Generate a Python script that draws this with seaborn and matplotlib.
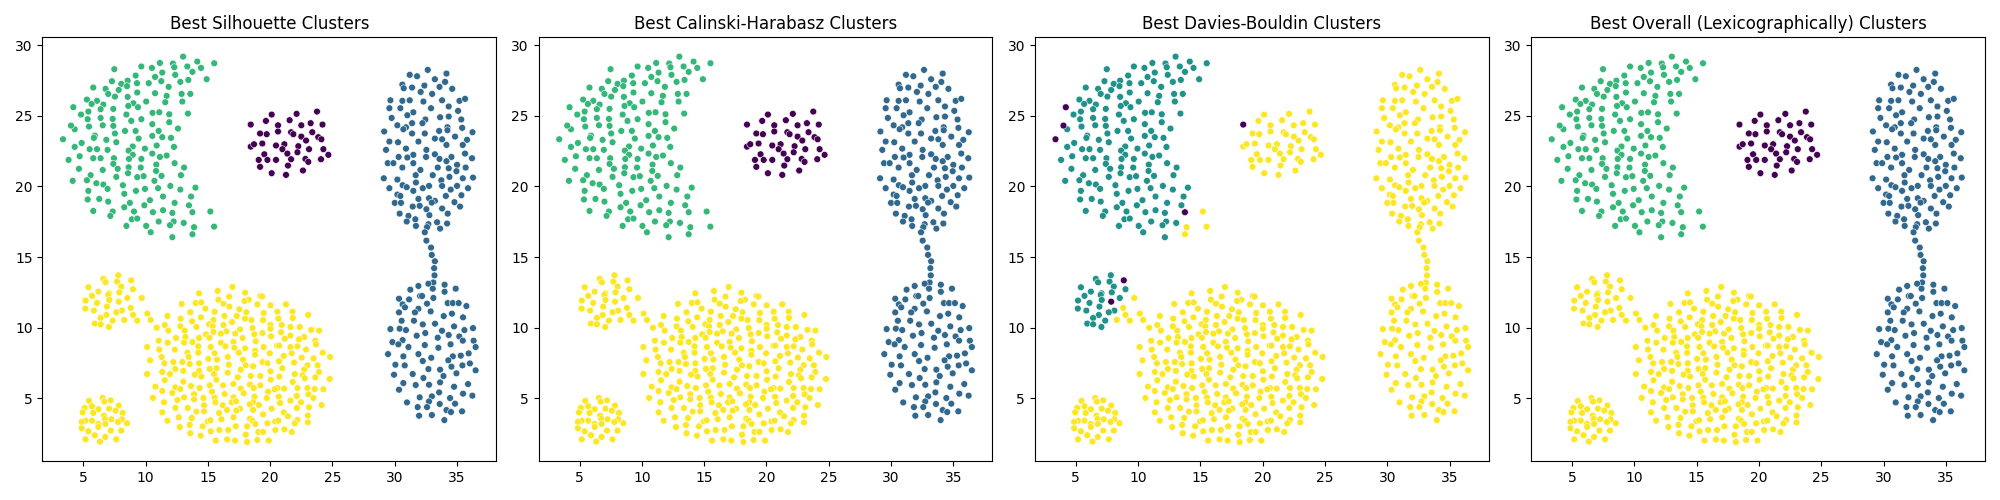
#!/usr/bin/env python3
"""Four cluster solutions on the same point set, side by side."""
import pandas as pd
import matplotlib
matplotlib.use('Agg')
import matplotlib.pyplot as plt
import seaborn as sns

# (x, y), one list per region
arc = [
    (13.01, 29.18), (14.15, 28.83), (15.51, 28.71), (12.2, 28.69), (12.3, 28.43), (11.15, 28.73),
    (9.66, 28.48), (10.51, 28.38), (13.35, 28.48), (14.45, 28.38), (13.76, 28.1), (7.49, 28.29),
    (11.34, 28.05), (12.38, 27.89), (9.2, 27.84), (10.76, 27.74), (14.9, 27.58), (13.43, 27.53),
    (12.79, 27.39), (11.26, 27.44), (10.25, 27.3), (9.31, 27.3), (8.56, 27.48), (7.3, 27.44),
    (8.05, 27.25), (8.51, 27.09), (11.85, 27.04), (5.80, 26.99), (6.79, 26.9), (7.84, 26.82),
    (9.33, 26.64), (10.76, 26.59), (12.89, 26.54), (13.59, 26.54), (7.0, 26.54), (11.69, 26.4),
    (7.54, 26.35), (8.56, 26.33), (5.29, 26.14), (6.10, 26.05), (5.67, 25.83), (6.61, 25.79),
    (10.05, 26.0), (11.58, 25.95), (12.95, 26.0), (9.02, 25.88), (8.61, 25.69), (9.39, 25.6),
    (6.39, 25.46), (7.41, 25.48), (5.41, 25.29), (10.56, 25.2), (11.10, 25.24), (11.90, 25.1),
    (13.40, 25.15), (4.82, 25.08), (8.46, 25.08), (6.39, 24.84), (5.35, 24.75), (7.36, 24.77),
    (9.66, 24.75), (8.85, 24.63), (11.90, 24.54), (10.54, 24.4), (6.56, 24.32), (7.41, 24.28),
    (5.46, 24.23), (4.31, 24.04), (12.60, 24.09), (8.35, 23.92), (9.20, 23.92), (11.05, 23.92),
    (7.54, 23.74), (10.54, 23.57), (5.92, 23.59), (5.85, 23.43), (11.34, 23.48), (12.04, 23.43),
    (9.44, 23.38), (6.85, 23.29), (7.65, 23.12), (4.87, 23.07), (10.89, 22.89), (4.31, 22.79),
    (8.97, 22.82), (12.28, 22.79), (5.51, 22.63), (6.10, 22.63), (6.95, 22.58), (9.95, 22.67),
    (8.64, 22.53), (10.54, 22.32), (8.97, 22.23), (4.71, 22.13), (11.15, 22.08), (11.69, 22.18),
    (5.80, 21.99), (6.39, 21.99), (7.46, 21.99), (8.67, 21.94), (9.66, 21.94), (3.82, 21.87),
    (7.41, 21.59), (12.33, 21.64), (10.86, 21.54), (7.76, 21.24), (8.64, 21.35), (9.61, 21.33),
    (13.09, 21.33), (6.56, 21.16), (4.65, 21.24), (10.84, 21.09), (8.59, 20.93), (5.59, 20.79),
    (7.65, 20.67), (9.33, 20.65), (9.84, 20.72), (11.28, 20.74), (12.84, 20.79), (5.29, 20.43),
    (4.15, 20.39), (10.71, 20.39), (6.05, 20.22), (6.61, 20.13), (8.18, 20.08), (11.99, 20.03),
    (14.0, 19.91), (6.95, 19.82), (9.95, 19.82), (11.0, 19.87), (12.79, 19.77), (5.41, 19.68),
    (9.23, 19.68), (8.29, 19.47), (11.40, 19.28), (13.65, 19.28), (5.35, 19.07), (6.28, 19.11),
    (7.0, 18.92), (10.35, 19.02), (8.74, 18.83), (12.33, 18.83), (9.90, 18.66), (13.48, 18.66),
    (8.29, 18.52), (5.80, 18.26), (7.36, 18.22), (9.07, 18.22), (10.59, 18.17), (11.40, 18.31),
    (12.15, 18.12), (7.17, 17.91), (8.90, 17.67), (9.33, 17.72), (11.05, 17.51), (12.25, 17.51),
    (11.96, 17.25), (13.06, 17.41), (8.46, 17.2), (10.05, 17.2), (10.41, 16.75), (12.15, 16.4),
]
arc_noise = [(3.37, 23.33), (4.01, 24.3), (4.2, 25.6), (13.76, 18.17)]
arc_tail = [(15.2, 18.22), (13.89, 17.11), (15.5, 17.15), (13.76, 16.61)]

blob = [
    (20.12, 25.08), (22.12, 25.13), (23.76, 25.29), (19.66, 24.63), (20.63, 24.32), (21.56, 24.68),
    (22.5, 24.32), (23.25, 24.47), (24.2, 24.37), (19.19, 23.74), (19.72, 23.69), (20.63, 23.88),
    (21.68, 23.83), (21.86, 23.69), (23.38, 23.83), (22.5, 23.52), (22.88, 23.24), (23.86, 23.48),
    (24.11, 23.33), (18.44, 22.81), (18.70, 22.98), (19.37, 23.03), (20.47, 22.89), (21.14, 22.98),
    (20.98, 22.63), (22.26, 22.84), (23.12, 22.63), (24.27, 22.63), (21.38, 22.32), (22.19, 22.41),
    (19.53, 22.27), (24.67, 22.23), (19.08, 21.87), (19.78, 21.87), (20.47, 21.87), (21.68, 21.92),
    (22.83, 21.94), (23.06, 21.73), (24.08, 21.92), (19.19, 21.38), (21.43, 21.47), (22.63, 21.12),
    (20.12, 20.93), (21.27, 20.81),
]
blob_noise = [(18.44, 24.37)]

right_top = [
    (32.65, 28.24), (31.2, 27.89), (31.79, 27.79), (34.15, 27.98), (33.22, 27.58), (34.04, 27.39),
    (30.61, 27.2), (30.72, 26.94), (31.39, 26.99), (32.38, 27.13), (33.59, 27.04), (34.61, 26.9),
    (32.08, 26.68), (33.0, 26.54), (29.65, 26.09), (30.61, 26.05), (31.2, 26.09), (32.3, 26.0),
    (33.8, 26.09), (35.19, 26.05), (35.64, 26.19), (29.57, 25.53), (30.45, 25.53), (32.91, 25.53),
    (34.33, 25.65), (35.08, 25.34), (31.49, 25.24), (31.01, 25.03), (29.75, 24.84), (33.64, 24.89),
    (34.33, 24.94), (35.34, 24.73), (32.46, 24.73), (32.22, 24.47), (31.39, 24.47), (30.21, 24.32),
    (30.9, 24.18), (30.69, 24.04), (34.23, 24.18), (34.23, 23.97), (35.41, 24.14), (33.56, 23.92),
    (29.15, 23.88), (31.39, 23.74), (32.41, 23.74), (36.24, 23.83), (34.84, 23.52), (33.22, 23.38),
    (33.8, 23.33), (35.8, 23.29), (29.57, 23.17), (30.26, 23.12), (31.9, 23.17), (34.15, 22.93),
    (35.46, 22.93), (29.3, 22.58), (30.9, 22.67), (32.54, 22.58), (31.49, 22.23), (33.22, 22.27),
    (35.64, 22.32), (30.31, 22.08), (31.01, 22.04), (32.51, 22.08), (33.59, 21.94), (34.55, 22.08),
    (36.2, 21.99), (34.15, 21.78), (29.44, 21.64), (29.89, 21.64), (31.49, 21.64), (35.0, 21.52),
    (30.61, 21.33), (33.45, 21.33), (34.33, 21.28), (35.69, 21.33), (32.06, 21.16), (34.95, 21.07),
    (29.12, 20.57), (31.68, 20.79), (33.05, 20.79), (34.39, 20.67), (35.46, 20.57), (36.28, 20.62),
    (30.21, 20.48), (33.74, 20.43), (31.7, 20.27), (30.63, 20.08), (30.96, 19.94), (32.75, 20.03),
    (33.8, 20.03), (35.0, 20.03), (29.57, 19.87), (32.25, 19.87), (35.88, 19.87), (34.49, 19.77),
    (31.49, 19.68), (30.21, 19.42), (30.45, 19.32), (34.1, 19.32), (35.35, 19.37), (32.75, 19.16),
    (31.9, 19.11), (33.22, 18.97), (32.97, 18.85), (30.0, 18.83), (30.5, 18.83), (34.79, 18.88),
    (31.44, 18.57), (32.0, 18.62), (35.24, 18.57), (33.8, 18.43), (32.54, 18.38), (30.39, 18.07),
    (34.25, 18.07), (32.78, 17.96), (31.1, 17.91), (31.65, 17.67), (30.96, 17.51), (33.4, 17.46),
    (34.2, 17.37), (32.7, 17.32), (31.7, 17.2), (32.59, 17.11), (33.64, 17.01), (32.41, 16.75),
]
bridge = [(32.54, 16.16), (32.91, 15.67), (32.97, 15.15), (33.22, 14.7), (33.16, 14.21), (33.19, 13.7)]
right_bottom = [
    (33.1, 13.2), (32.7, 13.11), (31.9, 12.95), (34.0, 13.04), (33.05, 12.76), (31.25, 12.69),
    (34.89, 12.76), (34.0, 12.54), (32.03, 12.24), (32.19, 12.24), (33.1, 12.1), (30.34, 12.05),
    (31.15, 12.0), (32.59, 11.7), (34.25, 11.74), (34.66, 11.74), (35.13, 11.74), (30.63, 11.65),
    (30.82, 11.44), (35.75, 11.53), (31.9, 11.34), (30.34, 11.08), (31.62, 11.08), (32.88, 11.15),
    (34.59, 10.99), (33.93, 10.82), (35.48, 10.73), (30.55, 10.49), (31.54, 10.49), (33.23, 10.28),
    (32.25, 10.23), (34.76, 10.09), (29.65, 9.9), (30.39, 9.93), (30.9, 9.83), (33.79, 9.78),
    (35.59, 9.83), (36.28, 9.97), (32.45, 9.62), (31.76, 9.43), (34.33, 9.48), (35.18, 9.38),
    (33.45, 9.29), (30.63, 9.12), (35.46, 9.08), (36.33, 9.08), (29.81, 8.98), (30.29, 8.82),
    (32.41, 8.77), (34.48, 8.82), (31.1, 8.63), (33.5, 8.58), (36.49, 8.63), (29.46, 8.13),
    (31.9, 8.13), (30.69, 7.97), (34.66, 7.97), (35.3, 8.02), (35.93, 8.18), (32.93, 7.87),
    (34.3, 7.69), (32.25, 7.64), (36.03, 7.47), (30.05, 7.38), (30.8, 7.33), (35.43, 7.33),
    (34.55, 7.24), (32.7, 7.07), (33.64, 7.03), (36.49, 6.98), (34.95, 6.77), (29.94, 6.67),
    (31.44, 6.72), (33.91, 6.58), (32.3, 6.44), (30.69, 6.08), (33.64, 6.13), (35.88, 6.01),
    (31.68, 5.94), (32.75, 5.96), (34.76, 5.82), (30.34, 5.61), (33.56, 5.42), (35.48, 5.33),
    (36.23, 5.19), (32.0, 5.07), (32.98, 5.14), (34.44, 5.02), (32.75, 4.78), (30.98, 4.71),
    (33.61, 4.6), (34.84, 4.62), (31.84, 4.38), (32.59, 4.38), (34.15, 4.17), (34.51, 4.03),
    (35.4, 4.08), (31.95, 3.77), (32.98, 3.82), (33.98, 3.46),
]

upper_small = [
    (7.81, 13.71), (6.61, 13.45), (6.79, 13.21), (7.71, 13.26), (5.41, 12.86), (8.05, 12.91),
    (6.21, 12.55), (8.99, 12.72), (7.06, 12.43), (7.0, 12.32), (7.89, 12.5), (5.70, 12.25),
    (8.53, 12.1), (7.08, 11.96), (5.18, 11.92), (6.10, 11.75), (6.90, 11.49), (5.16, 11.35),
    (5.85, 11.21), (8.10, 11.21), (7.65, 11.09), (6.85, 10.9), (6.39, 10.69), (7.36, 10.5),
    (5.92, 10.29), (6.39, 10.24), (7.06, 10.05),
]
upper_noise = [(8.85, 13.35), (7.84, 11.84)]
upper_tail = [(9.69, 12.1), (8.8, 11.4), (8.99, 10.9), (8.29, 10.55), (9.33, 10.5)]

lower_small = [
    (6.56, 5.03), (7.2, 4.86), (5.46, 4.82), (6.69, 4.77), (7.84, 4.49), (5.70, 4.44), (5.11, 4.32),
    (6.21, 4.23), (7.08, 4.27), (7.59, 4.13), (4.95, 4.01), (5.80, 3.97), (8.16, 3.97), (6.66, 3.78),
    (6.74, 3.54), (7.25, 3.52), (8.10, 3.52), (5.18, 3.42), (4.87, 3.33), (5.70, 3.42), (7.79, 3.33),
    (8.51, 3.24), (6.21, 3.19), (6.77, 3.19), (6.21, 2.98), (4.87, 2.88), (7.2, 2.72), (8.05, 2.72),
    (5.41, 2.67), (5.92, 2.39), (6.77, 2.27), (5.18, 2.1), (7.65, 2.1), (6.34, 1.94),
]
big_blob = [
    (10.14, 11.0), (10.41, 10.55), (10.89, 10.0),
    (16.97, 12.88), (15.79, 12.6), (14.29, 12.43), (17.99, 12.48), (16.71, 12.2), (19.2, 12.24),
    (19.36, 12.2), (15.84, 11.98), (18.28, 11.98), (17.94, 11.89), (12.9, 11.68), (14.02, 11.75),
    (14.47, 11.79), (16.25, 11.7), (18.98, 11.65), (20.02, 11.58), (21.27, 11.65), (16.73, 11.49),
    (14.8, 11.35), (17.53, 11.3), (15.54, 11.13), (13.59, 11.09), (18.09, 11.09), (20.58, 11.13),
    (21.79, 11.13), (19.48, 11.04), (11.75, 10.83), (16.33, 10.83), (17.32, 10.83), (23.05, 10.9),
    (14.44, 10.73), (12.82, 10.64), (17.99, 10.64), (18.5, 10.54), (19.43, 10.54), (20.66, 10.64),
    (21.81, 10.69), (15.44, 10.54), (13.73, 10.45), (16.94, 10.4), (15.1, 10.24), (16.25, 10.19),
    (11.54, 10.19), (20.02, 10.19), (20.93, 10.19), (12.79, 10.1), (15.39, 10.1), (14.08, 10.05),
    (18.58, 9.98), (21.63, 10.05), (22.37, 10.05), (20.02, 9.93), (17.58, 9.88), (13.14, 9.79),
    (11.83, 9.79), (23.29, 9.84), (23.93, 9.79), (16.49, 9.74), (15.44, 9.7), (16.04, 9.58),
    (17.2, 9.58), (19.38, 9.62), (20.87, 9.67), (14.85, 9.53), (18.73, 9.53), (15.12, 9.29),
    (13.2, 9.34), (14.29, 9.27), (12.44, 9.27), (17.79, 9.27), (20.07, 9.39), (21.63, 9.44),
    (21.17, 9.22), (22.73, 9.34), (22.32, 9.18), (11.05, 9.08), (13.76, 8.99), (13.09, 8.94),
    (11.77, 8.94), (16.04, 8.94), (17.05, 8.99), (18.84, 9.04), (23.63, 9.08), (23.68, 8.82),
    (16.41, 8.68), (14.23, 8.68), (10.12, 8.63), (15.23, 8.63), (17.13, 8.59), (17.99, 8.54),
    (19.48, 8.63), (20.56, 8.73), (20.71, 8.73), (21.63, 8.63), (22.19, 8.68), (11.1, 8.45),
    (12.34, 8.45), (22.88, 8.45), (13.36, 8.23), (14.23, 8.23), (15.54, 8.19), (17.48, 8.23),
    (18.79, 8.37), (18.79, 8.09), (19.97, 8.19), (21.73, 8.19), (24.22, 8.23), (11.29, 7.93),
    (13.46, 7.93), (16.59, 7.93), (21.09, 8.0), (22.53, 7.88), (23.47, 7.83), (24.81, 7.93),
    (10.36, 7.69), (15.04, 7.79), (15.74, 7.74), (17.82, 7.74), (19.38, 7.57), (20.71, 7.62),
    (19.78, 7.48), (12.23, 7.57), (12.95, 7.57), (11.51, 7.48), (13.54, 7.43), (14.29, 7.48),
    (16.68, 7.38), (18.04, 7.34), (18.63, 7.27), (21.92, 7.53), (22.99, 7.34), (23.81, 7.34),
    (12.39, 7.08), (15.15, 7.08), (15.69, 7.13), (17.64, 7.03), (20.98, 7.13), (22.73, 7.03),
    (11.34, 6.87), (13.03, 6.94), (14.29, 6.94), (16.59, 6.82), (20.02, 6.91), (23.93, 6.87),
    (10.12, 6.72), (11.96, 6.72), (13.95, 6.68), (15.49, 6.72), (21.97, 6.72), (22.61, 6.63),
    (14.47, 6.54), (18.44, 6.58), (19.21, 6.58), (20.74, 6.54), (17.4, 6.49), (22.78, 6.42),
    (23.63, 6.49), (11.54, 6.28), (15.69, 6.32), (20.05, 6.32), (24.78, 6.37), (13.03, 6.18),
    (21.81, 6.16), (17.05, 6.02), (18.38, 5.97), (19.21, 5.92), (10.79, 5.83), (13.64, 5.87),
    (15.15, 5.92), (16.22, 5.92), (12.39, 5.78), (12.79, 5.66), (14.34, 5.73), (17.64, 5.69),
    (18.68, 5.73), (20.58, 5.73), (20.37, 5.64), (21.12, 5.69), (22.19, 5.73), (22.99, 5.73),
    (23.58, 5.66), (24.27, 5.64), (11.34, 5.52), (15.33, 5.47), (19.83, 5.47), (12.15, 5.38),
    (17.87, 5.36), (16.35, 5.31), (13.89, 5.29), (23.07, 5.29), (10.59, 5.03), (12.56, 4.88),
    (13.09, 5.07), (13.89, 4.93), (14.64, 5.03), (15.54, 5.05), (17.05, 5.07), (18.74, 5.12),
    (19.73, 5.03), (20.69, 5.12), (22.14, 5.17), (23.47, 5.03), (11.48, 4.72), (15.6, 4.72),
    (16.92, 4.72), (17.26, 4.79), (18.63, 4.72), (18.36, 4.58), (20.79, 4.67), (21.63, 4.84),
    (22.48, 4.72), (24.13, 4.53), (12.39, 4.32), (13.38, 4.32), (14.69, 4.51), (16.19, 4.51),
    (19.09, 4.53), (17.58, 4.27), (20.12, 4.27), (22.14, 4.32), (23.12, 4.37), (14.69, 4.08),
    (14.08, 4.06), (16.54, 4.18), (17.29, 4.13), (18.63, 4.18), (11.34, 4.01), (15.9, 3.96),
    (21.09, 4.01), (19.43, 3.87), (12.66, 3.66), (13.71, 3.61), (17.05, 3.66), (21.42, 3.73),
    (23.02, 3.78), (11.75, 3.42), (16.09, 3.52), (18.38, 3.56), (18.58, 3.42), (22.19, 3.47),
    (23.02, 3.3), (14.98, 3.37), (15.2, 3.45), (20.4, 3.37), (20.66, 3.42), (21.97, 3.23),
    (18.81, 3.19), (19.78, 3.23), (12.74, 2.97), (13.54, 3.12), (14.58, 3.02), (17.23, 3.02),
    (18.15, 3.02), (20.42, 2.76), (21.14, 2.81), (15.23, 2.67), (15.92, 2.76), (16.64, 2.76),
    (19.05, 2.62), (19.43, 2.62), (21.73, 2.62), (13.59, 2.53), (14.42, 2.36), (18.04, 2.43),
    (15.63, 2.01), (16.54, 2.1), (17.18, 2.01), (18.15, 1.91), (18.97, 2.05), (19.89, 2.01),
]

regions = {
    'arc': arc, 'arc_noise': arc_noise, 'arc_tail': arc_tail,
    'blob': blob, 'blob_noise': blob_noise,
    'right_top': right_top, 'bridge': bridge, 'right_bottom': right_bottom,
    'upper_small': upper_small, 'upper_noise': upper_noise, 'upper_tail': upper_tail,
    'lower_small': lower_small, 'big_blob': big_blob,
}

# cluster of each region: the three matching solutions have four clusters
four_clusters = {
    'arc': 2, 'arc_noise': 2, 'arc_tail': 2,
    'blob': 0, 'blob_noise': 0,
    'right_top': 1, 'bridge': 1, 'right_bottom': 1,
    'upper_small': 3, 'upper_noise': 3, 'upper_tail': 3,
    'lower_small': 3, 'big_blob': 3,
}
davies_bouldin = {
    'arc': 1, 'arc_noise': 0, 'arc_tail': 2,
    'blob': 2, 'blob_noise': 0,
    'right_top': 2, 'bridge': 2, 'right_bottom': 2,
    'upper_small': 1, 'upper_noise': 0, 'upper_tail': 2,
    'lower_small': 2, 'big_blob': 2,
}

titles = [
    'Best Silhouette Clusters',
    'Best Calinski-Harabasz Clusters',
    'Best Davies-Bouldin Clusters',
    'Best Overall (Lexicographically) Clusters',
]
solutions = [four_clusters, four_clusters, davies_bouldin, four_clusters]

rows = [(x, y, name) for name, pts in regions.items() for x, y in pts]
df = pd.DataFrame(rows, columns=['x', 'y', 'region'])

fig, axes = plt.subplots(1, 4, figsize=(20, 5))
for ax, title, solution in zip(axes, titles, solutions):
    df['cluster'] = df['region'].map(solution)
    sns.scatterplot(data=df, x='x', y='y', hue='cluster', palette='viridis', s=24, legend=False, ax=ax)
    ax.set_title(title)
    ax.set_xlabel('')
    ax.set_ylabel('')

plt.tight_layout()
plt.savefig('out.png', dpi=100)
plt.close()
